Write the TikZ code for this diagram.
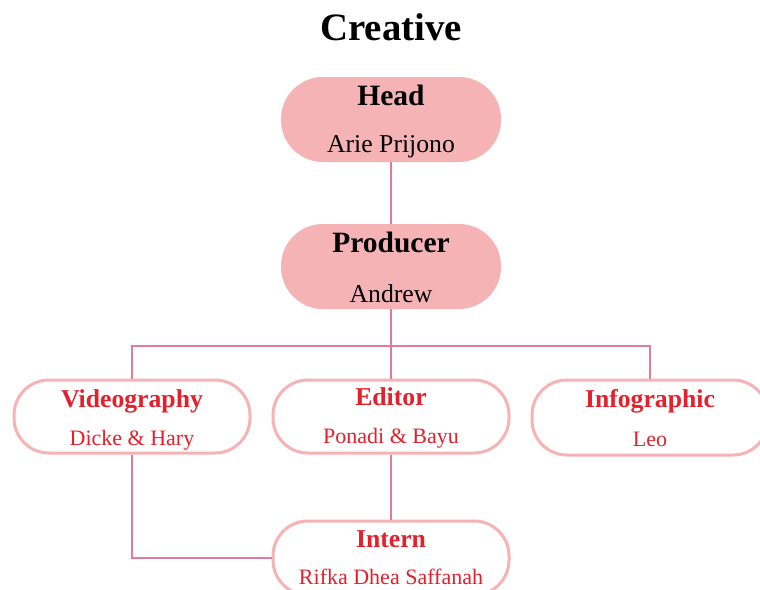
\documentclass[tikz,border=0pt]{standalone}
\usepackage{fontspec}
\setmainfont{Liberation Serif}
\definecolor{boxpink}{HTML}{F5B3B5}
\definecolor{linepink}{HTML}{E27B9B}
\definecolor{txtred}{HTML}{E3202B}
\begin{document}
\begin{tikzpicture}[x=1pt,y=-1pt,
  topbox/.style={draw=none,fill=boxpink,rounded corners=42pt,minimum width=220pt,minimum height=85pt,inner sep=0pt},
  lowbox/.style={draw=boxpink,line width=3pt,fill=white,rounded corners=35pt,minimum width=236pt,minimum height=73pt,inner sep=0pt},
  conn/.style={draw=linepink,line width=1.4pt},
  toptitle/.style={anchor=base,inner sep=0pt,font=\fontsize{29.5}{32}\selectfont\bfseries},
  topname/.style={anchor=base,inner sep=0pt,font=\fontsize{25.7}{28}\selectfont},
  lowtitle/.style={anchor=base,inner sep=0pt,text=txtred,font=\fontsize{25.7}{28}\selectfont\bfseries},
  lowname/.style={anchor=base,inner sep=0pt,text=txtred,font=\fontsize{22}{24}\selectfont}]
\useasboundingbox (0,0) rectangle (760,589);
\fill[white] (0,0) rectangle (760,589);
\node[anchor=base,inner sep=0pt,font=\fontsize{38.8}{40}\selectfont\bfseries] (title) at (391,40) {Creative};
% boxes
\node[topbox] (head) at (391,119.5) {};
\node[topbox] (prod) at (391,266.5) {};
\coordinate (bus) at (391,346);
\node[lowbox] (video) at (132,416.5) {};
\node[lowbox] (editor) at (391,416.5) {};
\node[lowbox,minimum height=75pt] (info) at (650,417.5) {};
\node[lowbox,minimum height=74pt] (intern) at (391,558) {};
% connectors
\draw[conn] (head.south) -- (prod.north);
\draw[conn] (prod.south) -- (bus);
\draw[conn] (video.north) |- (bus) -| (info.north);
\draw[conn] (bus) -- (editor.north);
\draw[conn] (editor.south) -- (intern.north);
\draw[conn] (video.south) |- (intern.west);
% texts
\node[toptitle] (headt) at (391,105) {Head};
\node[topname] (headn) at (391,152) {Arie Prijono};
\node[toptitle] (prodt) at (391,252) {Producer};
\node[topname] (prodn) at (391,302) {Andrew};
\node[lowtitle] (videot) at (132,407) {Videography};
\node[lowname] (videon) at (132,445) {Dicke \& Hary};
\node[lowtitle] (editort) at (391,405) {Editor};
\node[lowname] (editorn) at (391,443) {Ponadi \& Bayu};
\node[lowtitle] (infot) at (650,407) {Infographic};
\node[lowname] (infon) at (650,446) {Leo};
\node[lowtitle] (internt) at (391,547) {Intern};
\node[lowname] (internn) at (391,584) {Rifka Dhea Saffanah};
\end{tikzpicture}
\end{document}
